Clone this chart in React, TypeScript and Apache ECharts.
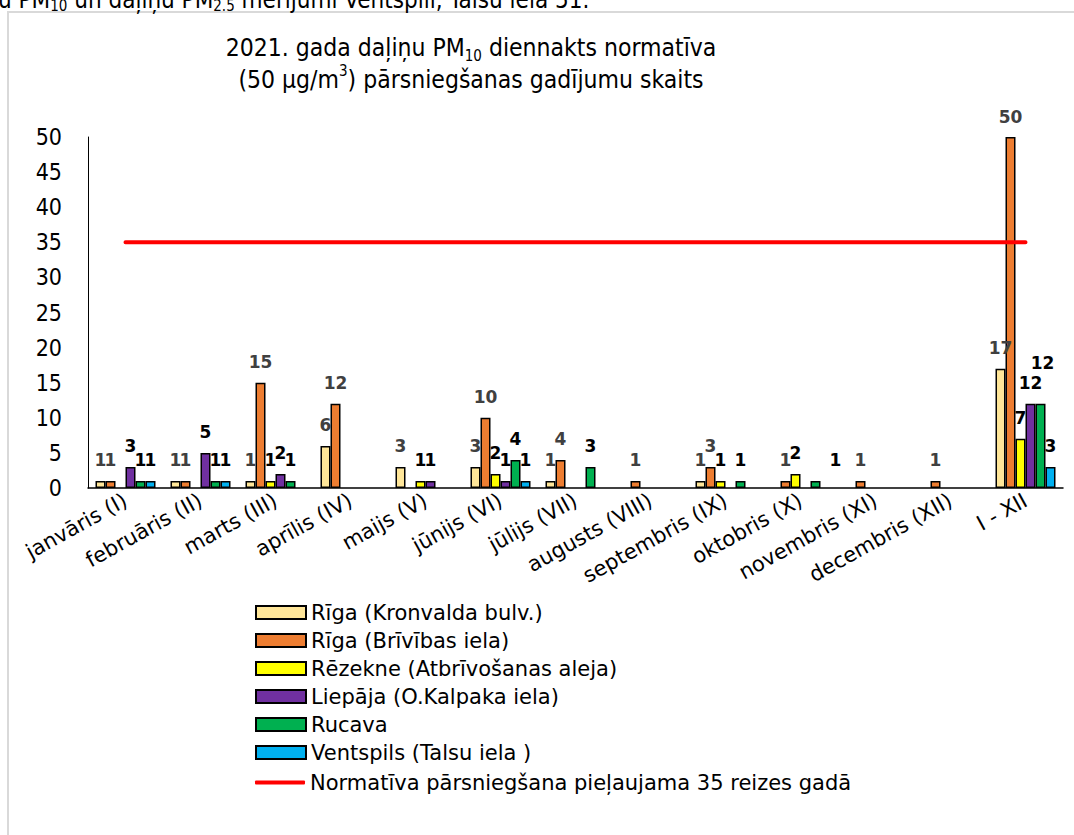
import React, { useEffect, useRef } from "react";
import * as echarts from "echarts";

const categories = [
  "janvāris (I)",
  "februāris (II)",
  "marts (III)",
  "aprīlis (IV)",
  "maijs (V)",
  "jūnijs (VI)",
  "jūlijs (VII)",
  "augusts (VIII)",
  "septembris (IX)",
  "oktobris (X)",
  "novembris (XI)",
  "decembris (XII)",
  "I - XII",
];

const kronvalda = [1, 1, 1, 6, 3, 3, 1, null, 1, null, null, null, 17];
const brivibas = [1, 1, 15, 12, null, 10, 4, 1, 3, 1, 1, 1, 50];
const rezekne = [null, null, 1, null, 1, 2, null, null, 1, 2, null, null, 7];
const liepaja = [3, 5, 2, null, 1, 1, null, null, null, null, null, null, 12];
const rucava = [1, 1, 1, null, null, 4, 3, null, 1, 1, null, null, 12];
const ventspils = [1, 1, null, null, null, 1, null, null, null, null, null, null, 3];
const normLimit = [35, 35, 35, 35, 35, 35, 35, 35, 35, 35, 35, 35, 35];

const seriesNames = [
  "Rīga (Kronvalda bulv.)",
  "Rīga (Brīvības iela)",
  "Rēzekne (Atbrīvošanas aleja)",
  "Liepāja (O.Kalpaka iela)",
  "Rucava",
  "Ventspils (Talsu iela )",
];
const lineName = "Normatīva pārsniegšana pieļaujama 35 reizes gadā";

const yTicks = { min: 0, max: 50, interval: 5 };

const COND = "'DejaVu Sans Condensed', 'Liberation Sans Narrow', 'DejaVu Sans', sans-serif";
const SANS = "'DejaVu Sans', Verdana, sans-serif";

export default function App() {
  const ref = useRef<HTMLDivElement>(null);

  useEffect(() => {
    if (!ref.current) return;
    const chart = echarts.init(ref.current, null, { renderer: "svg" });

    const values = [kronvalda, brivibas, rezekne, liepaja, rucava, ventspils];
    const colors = ["#FFE699", "#ED7D31", "#FFFF00", "#7030A0", "#00B050", "#00B0F0"];
    const labelColors = ["#404040", "#404040", "#000", "#000", "#000", "#000"];
    // manually moved labels (series index -> data index -> offset)
    const labelOffsets: Record<number, Record<number, number[]>> = {
      4: { 9: [20, 0], 12: [2, -20] },
    };

    const barSeries = values.map((arr, si) => ({
      name: seriesNames[si],
      type: "bar",
      barWidth: 10,
      barGap: "0%",
      data: arr.map((v, di) => {
        const off = labelOffsets[si] && labelOffsets[si][di];
        if (off && v != null) return { value: v, label: { offset: off } };
        return v;
      }),
      itemStyle: { color: colors[si], borderColor: "#000", borderWidth: 1.5 },
      label: {
        show: true,
        position: "top",
        distance: 12,
        fontFamily: SANS,
        fontWeight: "bold",
        fontSize: 17,
        color: labelColors[si],
      },
    }));

    const legendText = { fontFamily: SANS, fontSize: 21, color: "#000", lineHeight: 20 };

    const option: any = {
      animation: false,
      backgroundColor: "#fff",
      grid: { left: 88, right: 11, top: 137, bottom: 347, containLabel: false },
      xAxis: {
        type: "category",
        data: categories,
        axisLine: { show: true, lineStyle: { color: "#000", width: 1.5 } },
        axisTick: { show: false },
        axisLabel: {
          interval: 0,
          rotate: 29,
          margin: 11,
          fontFamily: SANS,
          fontSize: 21,
          color: "#000",
        },
        splitLine: { show: false },
      },
      yAxis: {
        type: "value",
        min: yTicks.min,
        max: yTicks.max,
        interval: yTicks.interval,
        axisLine: { show: true, lineStyle: { color: "#000", width: 1 } },
        axisTick: { show: false },
        splitLine: { show: false },
        axisLabel: { margin: 26, fontFamily: COND, fontSize: 23, color: "#000" },
      },
      legend: [
        {
          orient: "vertical",
          left: 255,
          top: 602,
          itemWidth: 50,
          itemHeight: 13,
          itemGap: 7,
          padding: 0,
          textStyle: legendText,
          data: seriesNames.map((n) => ({ name: n, icon: "rect" })),
        },
        {
          orient: "vertical",
          left: 255,
          top: 772,
          itemWidth: 50,
          itemHeight: 4,
          padding: 0,
          textStyle: legendText,
          data: [{ name: lineName, icon: "roundRect" }],
        },
      ],
      series: [
        ...barSeries,
        {
          name: lineName,
          type: "line",
          data: normLimit,
          symbol: "none",
          z: 5,
          lineStyle: { color: "#FF0000", width: 4, cap: "round" },
          itemStyle: { color: "#FF0000" },
        },
      ],
      graphic: [
        {
          type: "rect",
          shape: { x: 8, y: 12, width: 1100, height: 900 },
          style: { fill: "none", stroke: "#D9D9D9", lineWidth: 2 },
          silent: true,
        },
        {
          type: "text",
          x: -2,
          y: 0,
          style: {
            text: "u PM{sub|10} un daļiņu PM{sub|2.5} mērījumi Ventspilī, Talsu iela 51.",
            font: `24px ${COND}`,
            fill: "#000",
            verticalAlign: "middle",
            lineHeight: 26,
            rich: {
              sub: { fontSize: 15, fontFamily: COND, verticalAlign: "bottom", lineHeight: 17 },
            },
          },
        },
        {
          type: "text",
          x: 471,
          y: 63,
          style: {
            text:
              "2021. gada daļiņu PM{sub|10} diennakts normatīva\n(50 μg/m{sup|3}) pārsniegšanas gadījumu skaits",
            font: `24.5px ${COND}`,
            fontSize: 24.5,
            fontFamily: COND,
            fill: "#000",
            align: "center",
            verticalAlign: "middle",
            lineHeight: 32,
            rich: {
              sub: { fontSize: 15, fontFamily: COND, verticalAlign: "bottom", lineHeight: 18 },
              sup: { fontSize: 15, fontFamily: COND, verticalAlign: "top", lineHeight: 26 },
            },
          },
        },
      ],
    };

    chart.setOption(option);
    return () => chart.dispose();
  }, []);

  return (
    <div
      ref={ref}
      style={{ position: "absolute", left: 0, top: 0, width: 1074, height: 835, background: "#fff" }}
    />
  );
}
